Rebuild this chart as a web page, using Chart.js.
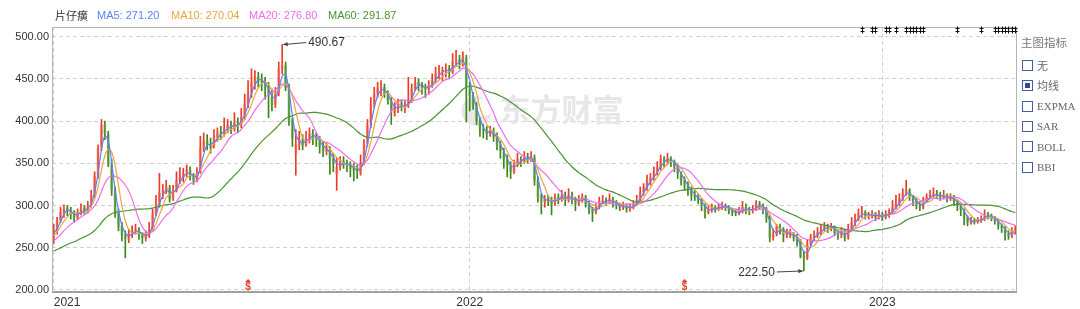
<!DOCTYPE html>
<html>
<head>
<meta charset="utf-8">
<script src="https://cdn.jsdelivr.net/npm/chart.js@4/dist/chart.umd.min.js"></script>
<style>
    body { margin: 0; background: #fff; }
    #wrap { position: relative; width: 1080px; height: 309px; overflow: hidden; }
    #kline { position: absolute; left: 0; top: 0; }
    .head { position: absolute; top: 8px; line-height: 14px; font-size: 11px; font-family: "Liberation Sans", Arial, sans-serif; white-space: nowrap; }
    .head.name { font-family: "Noto Sans CJK SC", sans-serif; color: #333; }
    .ptitle { position: absolute; left: 1021px; top: 35px; line-height: 14px; font-size: 11.5px; color: #777; font-family: "Noto Sans CJK SC", sans-serif; }
    .cb { position: absolute; left: 1022px; width: 11px; height: 11px; box-sizing: border-box; border: 1px solid #3f5f9f; background: #fff; }
    .cb.on::after { content: ''; position: absolute; left: 2px; top: 2px; width: 5px; height: 5px; background: #2c4c8c; }
    .plabel { position: absolute; left: 1037px; line-height: 14px; font-size: 11px; color: #666; font-family: "Liberation Serif", "Noto Sans CJK SC", serif; }
</style>
</head>
<body>
<div id="wrap">
    <canvas id="kline" width="1080" height="309"></canvas>
</div>
<script>
// ========== DATA ==========
const stockName = '片仔癀';
const maNames = ['MA5', 'MA10', 'MA20', 'MA60'];
const maLast = ['271.20', '270.04', '276.80', '291.87'];
const maColors = ['#5a82ff', '#eba43f', '#ef6cef', '#4a9433'];
// one candle here = two trading days, so MA5/10/20/60 use these candle windows
const maWindows = [3, 5, 10, 30];

const yearTicks = ['2021', '2022', '2023'];
const yearStartIdx = [0, 122, 243];
const yTicks = [200, 250, 300, 350, 400, 450, 500];
const yMin = 197.6;
const yMax = 511.5;

// closes before the first visible candle (only feed the moving averages)
const prior2020 = [232, 230, 234, 236, 233, 238, 240, 236, 234, 238, 242, 240, 238, 243, 246,
    244, 242, 245, 248, 250, 246, 248, 252, 250, 254, 256, 258, 262, 266, 268];

// [open, high, low, close]
const k2021 = [
    [258,278,255,268],[270,286,266,282],[283,298,280,292],[291,301,286,296],[297,300,288,294],
    [295,298,284,290],[291,294,280,286],[285,296,283,292],[291,302,289,296],[297,300,290,294],
    [293,305,291,300],[301,318,298,312],[314,340,310,335],[336,372,332,368],[370,402,365,395],
    [396,400,378,385],[384,388,346,350],[349,355,312,318],[318,322,286,290],[291,296,270,275],
    [276,280,258,265],[264,270,238,262],[260,272,256,266],[265,276,262,270],[271,278,266,272],
    [271,274,260,265],[264,268,255,262],[261,270,258,266],[264,280,262,272],[273,296,270,290],
    [291,312,288,302],[300,338,298,315],[316,325,308,318],[317,330,314,322],[321,324,304,308],
    [309,324,306,318],[318,340,316,330],[331,345,326,334],[333,344,328,338],[340,348,334,342],
    [343,346,330,334],[335,338,325,330],[331,345,328,338],[340,382,338,368],[368,386,364,376],
    [377,384,366,372],[372,380,362,370],[371,390,368,382],[382,392,376,386],[387,394,378,385],
    [386,404,382,392],[392,402,386,395],[396,400,385,392],[391,410,388,398],[399,404,386,396],
    [396,415,392,405],[406,432,402,420],[421,448,416,432],[433,462,428,445],[446,460,438,452],
    [453,458,440,448],[447,456,436,446],[446,452,426,440],[441,446,404,430],[428,438,412,420],
    [420,440,416,432],[434,470,430,462],[463,490.67,456,465],[466,470,436,440],[440,444,395,400],
    [400,404,370,380],[362,390,336,372],[372,388,366,378],[378,384,366,372],[372,388,370,380],
    [381,392,374,385],[386,390,372,382],[382,386,370,378],[378,382,362,370],[371,376,358,365],
    [364,374,360,368],[367,370,337,355],[355,362,340,350],[338,356,318,345],[346,358,342,352],
    [352,358,344,350],[350,354,340,348],[349,352,334,344],[344,350,329,342],[342,348,332,340],
    [338,360,336,350],[352,378,348,372],[374,402,370,395],[396,428,392,420],[421,440,416,432],
    [433,446,428,438],[439,448,430,440],[440,444,428,432],[432,436,420,425],[424,428,396,412],
    [410,422,406,415],[416,426,410,420],[421,425,412,418],[418,424,410,418],[419,452,416,425],
    [426,444,422,438],[439,452,436,446],[446,450,436,442],[442,446,432,440],[440,444,428,438],
    [438,448,432,442],[443,456,440,448],[449,464,446,456],[456,466,450,458],[459,464,448,460],
    [461,468,452,462],[462,466,450,458],[458,480,456,470],[471,484,466,472],[473,478,462,468],
    [468,482,465,476],[474,478,399,440]
];

const k2022 = [
    [438,446,412,430],[430,434,414,420],[419,422,396,400],[400,404,382,390],[390,396,380,388],
    [388,394,378,385],[385,394,382,388],[388,392,376,382],[382,386,366,372],[372,376,356,365],
    [364,368,344,355],[355,360,334,348],[348,352,332,340],[340,354,338,350],[350,362,346,355],
    [355,358,346,352],[352,364,350,358],[358,362,350,356],[356,364,352,358],[356,360,324,330],
    [330,334,304,310],[310,314,290,305],[304,312,298,308],[308,312,300,306],[306,310,289,302],
    [302,314,300,310],[310,314,302,308],[308,318,305,312],[312,316,300,306],[306,320,304,312],
    [312,316,302,308],[307,310,294,302],[302,312,300,308],[308,314,304,310],[310,312,298,302],
    [302,305,290,295],[295,298,281,292],[292,302,290,298],[298,310,296,305],[305,312,302,306],
    [306,309,300,304],[304,314,302,308],[308,310,298,302],[302,306,296,300],[300,303,294,298],
    [298,304,295,300],[300,302,292,296],[296,302,293,298],[298,306,296,302],[302,312,300,306],
    [306,322,304,316],[316,326,312,322],[322,336,318,330],[330,338,324,332],[332,346,330,340],
    [340,352,336,345],[345,360,342,355],[355,358,346,352],[352,362,348,356],[356,358,346,352],
    [352,354,340,346],[346,348,332,338],[338,340,324,330],[330,334,318,325],[325,328,312,318],
    [318,322,306,312],[312,318,306,310],[310,314,302,306],[306,308,294,300],[300,302,285,292],
    [292,300,290,295],[295,302,292,298],[298,300,292,296],[296,302,294,298],[298,304,295,300],
    [300,302,294,298],[298,300,290,294],[294,297,288,292],[292,296,288,291],[291,298,289,293],
    [293,305,291,298],[298,302,290,295],[295,298,289,294],[294,300,291,296],[296,306,294,302],
    [302,305,296,300],[300,302,290,296],[296,298,280,285],[284,288,257,262],[262,272,259,266],
    [266,278,264,275],[275,278,266,272],[272,274,257,265],[265,272,262,268],[264,272,262,266],
    [266,268,258,262],[262,266,252,258],[258,260,238,240],[240,246,222.5,238],[238,260,236,255],
    [255,266,252,262],[262,270,258,266],[266,274,262,268],[268,277,265,272],[272,280,270,276],
    [276,278,268,274],[274,279,270,275],[275,276,264,268],[268,270,260,265],[265,274,262,270],
    [270,272,258,262],[262,278,260,272],[272,286,270,280],[280,290,276,284],[284,296,282,290],
    [290,299,286,292],[292,294,284,288],[288,292,284,288],[288,294,285,290],[290,292,282,286],
    [286,294,284,290]
];

const k2023 = [
    [290,292,282,286],[286,294,284,290],[290,296,286,292],[292,306,290,298],[298,312,296,302],
    [302,314,300,308],[308,320,306,315],[315,330,312,318],[318,320,306,310],[310,312,300,306],
    [306,308,296,300],[300,304,294,298],[298,310,296,306],[306,314,304,310],[310,318,308,312],
    [312,321,310,314],[314,318,308,312],[312,316,306,310],[310,318,308,312],[312,314,304,308],
    [308,314,306,310],[310,312,300,305],[305,306,294,300],[300,302,288,295],[295,296,277,285],
    [285,288,276,280],[280,286,278,282],[282,285,278,281],[281,286,279,283],[283,288,280,284],
    [284,295,282,290],[290,292,284,288],[288,290,282,285],[285,287,278,282],[282,283,272,276],
    [276,278,268,274],[274,275,259,266],[266,270,260,264],[264,274,262,270],[270,276,266,272]
];

// candle indexes carrying notice markers (top) and dividend markers (bottom)
const noticeIdx = [237, 240, 241, 244, 245, 247, 250, 251, 252, 253, 254, 255, 265, 272,
    276, 277, 278, 279, 280, 281, 282];
const dividendIdx = [57, 185];

const panelItems = ['无', '均线', 'EXPMA', 'SAR', 'BOLL', 'BBI'];
const panelChecked = 1;

// ========== BUILD SERIES ==========
const rows = k2021.concat(k2022, k2023);
const closes = rows.map(r => r[3]);
const labels = rows.map((r, i) => {
    const k = yearStartIdx.indexOf(i);
    return k >= 0 ? yearTicks[k] : '';
});

function movingAverage(win) {
    const all = prior2020.concat(closes);
    const off = prior2020.length;
    return closes.map((c, i) => {
        const seg = all.slice(off + i - win + 1, off + i + 1);
        return seg.reduce((s, v) => s + v, 0) / seg.length;
    });
}

const isUp = i => rows[i][3] >= rows[i][0];
const upBody = 'rgba(242,92,70,0.62)';
const downBody = 'rgba(96,156,60,0.62)';
const upWick = '#ec3a28';
const downWick = '#3c8618';

// ========== HEADER + SIDE PANEL ==========
const wrap = document.getElementById('wrap');
const headLeft = [55, 97, 171, 249, 328];
const nameEl = document.createElement('div');
nameEl.className = 'head name';
nameEl.style.left = headLeft[0] + 'px';
nameEl.textContent = stockName;
wrap.appendChild(nameEl);
maNames.forEach((n, k) => {
    const el = document.createElement('div');
    el.className = 'head';
    el.style.left = headLeft[k + 1] + 'px';
    el.style.color = maColors[k];
    el.textContent = `${n}: ${maLast[k]}`;
    wrap.appendChild(el);
});

const title = document.createElement('div');
title.className = 'ptitle';
title.textContent = '主图指标';
wrap.appendChild(title);
panelItems.forEach((t, k) => {
    const top = 60 + k * 20.3;
    const cb = document.createElement('div');
    cb.className = 'cb' + (k === panelChecked ? ' on' : '');
    cb.style.top = top + 'px';
    wrap.appendChild(cb);
    const lb = document.createElement('div');
    lb.className = 'plabel';
    lb.style.top = (top - 1.5) + 'px';
    lb.textContent = t;
    wrap.appendChild(lb);
});

// ========== PLUGINS ==========
const watermark = {
    id: 'watermark',
    beforeDatasetsDraw(chart) {
        const { ctx, chartArea: a } = chart;
        const cx = (a.left + a.right) / 2;
        ctx.save();
        ctx.fillStyle = '#e7e7eb';
        ctx.beginPath();
        ctx.arc(cx - 58, a.top + 84, 15, 0, Math.PI * 2);
        ctx.fill();
        ctx.fillStyle = '#fff';
        ctx.beginPath();
        ctx.arc(cx - 50, a.top + 80, 9, 0, Math.PI * 2);
        ctx.fill();
        ctx.fillStyle = '#e7e7eb';
        ctx.font = 'bold 31px "Noto Sans CJK SC"';
        ctx.textBaseline = 'middle';
        ctx.fillText('东方财富', cx - 35, a.top + 82);
        ctx.restore();
    }
};

function arrow(ctx, x0, y0, x1, y1) {
    const ang = Math.atan2(y1 - y0, x1 - x0);
    ctx.beginPath();
    ctx.moveTo(x0, y0);
    ctx.lineTo(x1, y1);
    ctx.stroke();
    ctx.beginPath();
    ctx.moveTo(x1, y1);
    ctx.lineTo(x1 - 5 * Math.cos(ang - 0.45), y1 - 5 * Math.sin(ang - 0.45));
    ctx.lineTo(x1 - 5 * Math.cos(ang + 0.45), y1 - 5 * Math.sin(ang + 0.45));
    ctx.closePath();
    ctx.fill();
}

const marks = {
    id: 'marks',
    afterDatasetsDraw(chart) {
        const { ctx, chartArea: a, scales: { x, y } } = chart;
        ctx.save();

        // frame
        ctx.strokeStyle = '#b4b4b4';
        ctx.lineWidth = 1;
        ctx.strokeRect(a.left + 0.5, a.top + 0.5, a.right - a.left - 1, a.bottom - a.top);
        ctx.strokeStyle = '#a0a0a0';
        ctx.lineWidth = 2;
        ctx.beginPath();
        ctx.moveTo(a.left, a.bottom);
        ctx.lineTo(a.right, a.bottom);
        ctx.stroke();

        // highest high / lowest low labels
        let hi = 0, lo = 0;
        rows.forEach((r, i) => {
            if (r[1] > rows[hi][1]) hi = i;
            if (r[2] < rows[lo][2]) lo = i;
        });
        ctx.strokeStyle = '#444';
        ctx.fillStyle = '#444';
        ctx.lineWidth = 1;
        ctx.font = '12px "Liberation Sans", Arial';
        ctx.textBaseline = 'middle';
        const hx = x.getPixelForValue(hi), hy = y.getPixelForValue(rows[hi][1]);
        arrow(ctx, hx + 24, hy - 2, hx + 1, hy);
        ctx.fillStyle = '#333';
        ctx.textAlign = 'left';
        ctx.fillText(rows[hi][1].toFixed(2), hx + 26, hy - 2);
        const lx = x.getPixelForValue(lo), ly = y.getPixelForValue(rows[lo][2]);
        ctx.fillStyle = '#444';
        arrow(ctx, lx - 27, ly + 1, lx - 1, ly);
        ctx.fillStyle = '#333';
        ctx.textAlign = 'right';
        ctx.fillText(rows[lo][2].toFixed(2), lx - 29, ly + 2);

        // notice markers along the top
        ctx.strokeStyle = '#111';
        ctx.lineWidth = 1;
        noticeIdx.forEach(i => {
            const px = Math.round(x.getPixelForValue(i)) + 0.5;
            const t = a.top - 0.5;
            ctx.beginPath();
            ctx.moveTo(px, t);
            ctx.lineTo(px, t + 7);
            ctx.moveTo(px - 2, t + 2);
            ctx.lineTo(px + 2, t + 2);
            ctx.moveTo(px - 2, t + 5);
            ctx.lineTo(px + 2, t + 5);
            ctx.stroke();
        });

        // dividend markers along the bottom
        ctx.fillStyle = '#e8412c';
        ctx.font = 'bold 10px "Liberation Sans", Arial';
        ctx.textAlign = 'center';
        dividendIdx.forEach(i => {
            const px = x.getPixelForValue(i);
            ctx.beginPath();
            ctx.moveTo(px, a.bottom - 13);
            ctx.lineTo(px - 3, a.bottom - 10);
            ctx.lineTo(px + 3, a.bottom - 10);
            ctx.closePath();
            ctx.fill();
            ctx.fillText('$', px, a.bottom - 5);
        });
        ctx.restore();
    }
};

// ========== CHART ==========
const maSets = maNames.map((n, k) => ({
    type: 'line',
    label: n,
    data: movingAverage(maWindows[k]),
    borderColor: maColors[k],
    borderWidth: 1.2,
    pointRadius: 0,
    tension: 0.35,
    order: 0
}));

new Chart(document.getElementById('kline'), {
    type: 'bar',
    data: {
        labels: labels,
        datasets: [
            ...maSets,
            {
                label: 'body',
                data: rows.map(r => [r[0], r[3]]),
                backgroundColor: c => isUp(c.dataIndex) ? upBody : downBody,
                barThickness: 2,
                minBarLength: 1,
                grouped: false,
                order: 1
            },
            {
                label: 'wick',
                data: rows.map(r => [r[2], r[1]]),
                backgroundColor: c => isUp(c.dataIndex) ? upWick : downWick,
                barThickness: 1,
                grouped: false,
                order: 2
            }
        ]
    },
    options: {
        responsive: false,
        animation: false,
        events: [],
        layout: { padding: { top: 27, right: 63, left: 0, bottom: 0 } },
        plugins: { legend: { display: false }, tooltip: { enabled: false } },
        scales: {
            x: {
                offset: true,
                grid: {
                    offset: false,
                    drawTicks: false,
                    color: c => yearStartIdx.includes(c.index) ? '#cfcfcf' : 'transparent'
                },
                border: { display: false, dash: [4, 3] },
                ticks: {
                    autoSkip: false,
                    maxRotation: 0,
                    minRotation: 0,
                    align: 'inner',
                    padding: 3,
                    color: '#333',
                    font: { size: 12, family: '"Liberation Sans", Arial' },
                    callback: (v, i) => labels[i]
                },
                afterFit: s => { s.height = 17; }
            },
            y: {
                min: yMin,
                max: yMax,
                afterBuildTicks: s => { s.ticks = yTicks.map(v => ({ value: v })); },
                grid: { color: '#d2d2d2', drawTicks: false },
                border: { display: false, dash: [4, 3] },
                ticks: {
                    padding: 3,
                    color: '#333',
                    font: { size: 11, family: '"Liberation Sans", Arial' },
                    callback: v => v.toFixed(2)
                },
                afterFit: s => { s.width = 52; }
            }
        }
    },
    plugins: [watermark, marks]
});
</script>
</body>
</html>
